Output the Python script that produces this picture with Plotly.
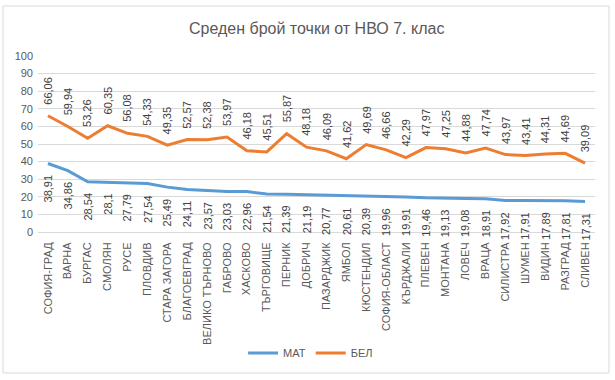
import plotly.graph_objects as go

categories = ["СОФИЯ-ГРАД", "ВАРНА", "БУРГАС", "СМОЛЯН", "РУСЕ", "ПЛОВДИВ", "СТАРА ЗАГОРА",
              "БЛАГОЕВГРАД", "ВЕЛИКО ТЪРНОВО", "ГАБРОВО", "ХАСКОВО", "ТЪРГОВИЩЕ", "ПЕРНИК",
              "ДОБРИЧ", "ПАЗАРДЖИК", "ЯМБОЛ", "КЮСТЕНДИЛ", "СОФИЯ-ОБЛАСТ", "КЪРДЖАЛИ", "ПЛЕВЕН",
              "МОНТАНА", "ЛОВЕЧ", "ВРАЦА", "СИЛИСТРА", "ШУМЕН", "ВИДИН", "РАЗГРАД", "СЛИВЕН"]
mat = [38.91, 34.86, 28.54, 28.1, 27.79, 27.54, 25.49, 24.11, 23.57, 23.03, 22.96, 21.54, 21.39,
       21.19, 20.77, 20.61, 20.39, 19.96, 19.91, 19.46, 19.13, 19.08, 18.91, 17.92, 17.91, 17.89,
       17.81, 17.31]
bel = [66.06, 59.94, 53.26, 60.35, 56.08, 54.33, 49.35, 52.57, 52.38, 53.97, 46.18, 45.51, 55.87,
       48.18, 46.09, 41.62, 49.69, 46.66, 42.29, 47.97, 47.25, 44.88, 47.74, 43.97, 43.41, 44.31,
       44.69, 39.09]
y_ticks = [0, 10, 20, 30, 40, 50, 60, 70, 80, 90, 100]

BLUE = "#5B9BD5"
ORANGE = "#ED7D31"
FONT = "Liberation Sans"
GRAY = "#595959"

def fmt(v):
    s = f"{v:.2f}".rstrip("0").rstrip(".")
    return s.replace(".", ",")

fig = go.Figure()
fig.add_trace(go.Scatter(x=categories, y=mat, mode="lines", name="МАТ",
                         line=dict(color=BLUE, width=3)))
fig.add_trace(go.Scatter(x=categories, y=bel, mode="lines", name="БЕЛ",
                         line=dict(color=ORANGE, width=3)))

annotations = []
for c, v in zip(categories, bel):
    annotations.append(dict(x=c, y=v, xref="x", yref="y", text=fmt(v), textangle=-90,
                            showarrow=False, yanchor="bottom", xanchor="center", yshift=9,
                            font=dict(family=FONT, size=11, color="#404040")))
for c, v in zip(categories, mat):
    annotations.append(dict(x=c, y=v, xref="x", yref="y", text=fmt(v), textangle=-90,
                            showarrow=False, yanchor="top", xanchor="center", yshift=-9,
                            font=dict(family=FONT, size=11, color="#404040")))
annotations.append(dict(x=0.5, y=1, xref="paper", yref="paper", yshift=28, xanchor="center",
                        yanchor="middle", text="Среден брой точки от НВО 7. клас",
                        showarrow=False, font=dict(family=FONT, size=16, color=GRAY)))

fig.update_layout(
    width=615, height=380,
    margin=dict(l=38, r=20, t=56, b=148, autoexpand=False),
    paper_bgcolor="white", plot_bgcolor="white",
    showlegend=True,
    legend=dict(orientation="h", xref="container", yref="container", x=0.505, xanchor="center",
                y=0.071, yanchor="middle",
                font=dict(family=FONT, size=11, color=GRAY), itemwidth=30),
    annotations=annotations,
    font=dict(family=FONT, color=GRAY),
    shapes=[dict(type="rect", xref="paper", yref="paper", x0=-0.0628, x1=1.0251,
                 y0=-0.801, y1=1.284, line=dict(color="#d9d9d9", width=1))],
)
fig.update_xaxes(type="category", categoryorder="array", categoryarray=categories,
                 range=[-0.5, len(categories) - 0.5], tickangle=-90, showgrid=False,
                 showline=True, linecolor="#d9d9d9", linewidth=1, ticks="", automargin=False,
                 tickfont=dict(family=FONT, size=11, color=GRAY), ticklabelstandoff=5)
fig.update_yaxes(range=[0, 100], tickvals=y_ticks, showgrid=True, gridcolor="#d9d9d9",
                 zeroline=False, showline=False, ticks="", automargin=False,
                 tickfont=dict(family=FONT, size=11, color=GRAY), ticklabelstandoff=4)

fig.write_html("out.html", config={"displayModeBar": False},
               post_script="document.body.style.margin='0';")
